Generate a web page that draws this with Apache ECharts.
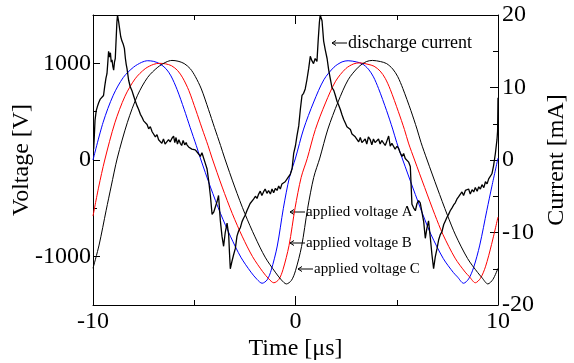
<!DOCTYPE html>
<html>
<head>
<meta charset="utf-8">
<script src="https://cdn.jsdelivr.net/npm/echarts@6.0.0/dist/echarts.min.js"></script>
<style>
html, body { margin: 0; padding: 0; background: #fff; }
#chart { width: 574px; height: 363px; }
</style>
</head>
<body>
<div id="chart"></div>
<script>
// time in us, voltage in V, current in mA
const voltageA = [
  [-10, 0], [-9.5, 390], [-9, 670], [-8.5, 855], [-8, 960], [-7.6, 1010], [-7.3, 1027], [-7.0, 1020],
  [-6.7, 995], [-6.4, 945], [-6.15, 870], [-5.85, 730], [-5.5, 525], [-5.2, 335], [-4.9, 150], [-4.7, 20],
  [-4.2, -280], [-3.7, -555], [-3.2, -795], [-2.7, -1005], [-2.2, -1160], [-1.9, -1235], [-1.65, -1275],
  [-1.4, -1240], [-1.2, -1140], [-0.9, -890], [-0.6, -500], [-0.3, -180], [0, 20], [0.4, 320], [0.9, 600],
  [1.4, 830], [1.9, 960], [2.3, 1015], [2.6, 1027], [3.0, 1015], [3.3, 995], [3.6, 940], [3.85, 860],
  [4.1, 740], [4.5, 510], [4.8, 320], [5.0, 180], [5.3, 0], [5.8, -290], [6.3, -570], [6.7, -775],
  [7.3, -1020], [7.8, -1165], [8.0, -1210], [8.3, -1275], [8.55, -1230], [8.8, -1110], [9.1, -880],
  [9.45, -520], [9.7, -270], [10, 20]
];
const voltageB = [
  [-10, -580], [-9.72, -280], [-9.42, 0], [-8.92, 385], [-8.42, 660], [-7.92, 840], [-7.42, 945], [-7.0, 990],
  [-6.72, 1000], [-6.42, 995], [-6.12, 975], [-5.82, 925], [-5.57, 850], [-5.27, 720], [-4.92, 515],
  [-4.62, 330], [-4.32, 150], [-4.12, 20], [-3.62, -280], [-3.12, -555], [-2.62, -795], [-2.12, -1000],
  [-1.62, -1155], [-1.32, -1230], [-1.07, -1270], [-0.82, -1235], [-0.62, -1135], [-0.32, -885],
  [-0.02, -495], [0.28, -180], [0.58, 15], [0.98, 315], [1.48, 590], [1.98, 815], [2.48, 945], [2.88, 995],
  [3.18, 1005], [3.58, 990], [3.88, 970], [4.18, 920], [4.43, 845], [4.68, 730], [5.08, 500], [5.38, 315],
  [5.58, 175], [5.88, 0], [6.38, -285], [6.88, -565], [7.28, -770], [7.88, -1015], [8.38, -1160],
  [8.58, -1205], [8.88, -1270], [9.13, -1225], [9.38, -1105], [9.68, -875], [10, -590]
];
const voltageC = [
  [-10, -1120], [-9.7, -880], [-9.35, -520], [-9.1, -270], [-8.8, 20], [-8.3, 390], [-7.8, 670], [-7.3, 855],
  [-6.8, 960], [-6.4, 1012], [-6.1, 1030], [-5.8, 1022], [-5.5, 998], [-5.2, 945], [-4.95, 865],
  [-4.65, 735], [-4.3, 525], [-4.0, 335], [-3.7, 150], [-3.5, 20], [-3.0, -280], [-2.5, -555], [-2.0, -795],
  [-1.5, -1005], [-1.0, -1160], [-0.7, -1240], [-0.45, -1282], [-0.2, -1245], [0.0, -1145], [0.3, -895],
  [0.6, -500], [0.9, -180], [1.2, 20], [1.6, 320], [2.1, 600], [2.6, 830], [3.1, 960], [3.5, 1018],
  [3.8, 1030], [4.2, 1018], [4.5, 997], [4.8, 942], [5.05, 862], [5.3, 740], [5.7, 510], [6.0, 320],
  [6.2, 180], [6.5, 0], [7.0, -290], [7.5, -570], [7.9, -775], [8.5, -1020], [9.0, -1165], [9.2, -1215],
  [9.5, -1282], [9.75, -1235], [10, -1120]
];
const dischargeCurrent = [
  [-9.97, 1.5], [-9.94, 3.0], [-9.9, 5.5], [-9.84, 6.8], [-9.78, 7.4], [-9.72, 7.9], [-9.64, 8.4], [-9.56, 8.2],
  [-9.48, 8.9], [-9.42, 10.2], [-9.36, 11.3], [-9.31, 11.9], [-9.27, 13.4], [-9.23, 15.0], [-9.18, 14.2],
  [-9.14, 14.8], [-9.10, 13.5], [-9.06, 13.8], [-9.02, 12.9], [-8.98, 12.4], [-8.94, 13.5], [-8.90, 14.0],
  [-8.86, 16.5], [-8.82, 19.0], [-8.79, 20.0], [-8.74, 19.2], [-8.69, 18.2], [-8.63, 17.0], [-8.57, 16.4],
  [-8.51, 16.0], [-8.45, 15.4], [-8.40, 14.0], [-8.36, 13.2], [-8.32, 12.6], [-8.24, 11.0], [-8.16, 10.1],
  [-8.08, 9.6], [-8.0, 8.9], [-7.92, 8.2], [-7.83, 7.5], [-7.75, 7.0], [-7.66, 6.3], [-7.58, 5.9],
  [-7.50, 5.4], [-7.42, 5.2], [-7.33, 4.9], [-7.25, 4.3], [-7.17, 4.6], [-7.08, 3.9], [-7.0, 3.7],
  [-6.92, 3.2], [-6.84, 3.5], [-6.76, 2.8], [-6.68, 2.6], [-6.6, 2.3], [-6.52, 2.9], [-6.44, 2.2],
  [-6.35, 2.3], [-6.27, 2.8], [-6.19, 2.5], [-6.10, 3.0], [-6.02, 3.3], [-5.96, 2.4], [-5.9, 3.1],
  [-5.83, 2.2], [-5.76, 2.8], [-5.69, 2.3], [-5.62, 2.0], [-5.55, 2.7], [-5.47, 2.1], [-5.40, 2.4],
  [-5.36, 2.1], [-5.28, 1.8], [-5.20, 1.9], [-5.12, 1.5], [-5.03, 1.6], [-4.95, 1.4], [-4.86, 1.1],
  [-4.78, 0.8], [-4.70, 0.5], [-4.62, 1.0], [-4.54, 0.9], [-4.45, -0.5], [-4.37, -1.2], [-4.29, -2.8],
  [-4.2, -5.0], [-4.12, -7.5], [-4.04, -7.2], [-3.96, -7.0], [-3.88, -5.8], [-3.80, -4.9], [-3.76, -6.5],
  [-3.71, -8.4], [-3.63, -10.5], [-3.55, -11.9], [-3.47, -10.0], [-3.38, -8.7], [-3.30, -10.3],
  [-3.26, -12.8], [-3.22, -15.0], [-3.14, -14.0], [-3.06, -13.1], [-2.97, -12.2], [-2.89, -10.5],
  [-2.81, -9.8], [-2.72, -9.3], [-2.64, -8.5], [-2.56, -8.0], [-2.48, -7.6], [-2.40, -7.0], [-2.32, -6.8],
  [-2.24, -6.0], [-2.15, -5.9], [-2.07, -5.4], [-1.98, -5.0], [-1.90, -5.3], [-1.82, -4.7], [-1.74, -4.3],
  [-1.66, -4.9], [-1.58, -4.4], [-1.50, -4.0], [-1.41, -4.6], [-1.33, -4.2], [-1.24, -4.7], [-1.16, -4.0],
  [-1.08, -4.5], [-0.99, -3.9], [-0.91, -4.2], [-0.83, -3.6], [-0.75, -4.0], [-0.67, -3.3], [-0.59, -3.5],
  [-0.51, -3.0], [-0.42, -2.8], [-0.34, -2.3], [-0.26, -2.0], [-0.17, -1.2], [-0.09, 0.9], [0.0, 2.0],
  [0.07, 3.3], [0.16, 4.7], [0.24, 7.0], [0.32, 8.9], [0.40, 9.2], [0.48, 9.8], [0.56, 11.0], [0.65, 12.6],
  [0.73, 14.3], [0.81, 13.7], [0.89, 13.3], [0.97, 14.0], [1.06, 13.6], [1.12, 16.5], [1.18, 19.0],
  [1.22, 20.0], [1.31, 19.2], [1.39, 16.4], [1.47, 15.2], [1.56, 14.0], [1.64, 12.4], [1.72, 11.2],
  [1.80, 10.0], [1.89, 9.6], [1.97, 8.9], [2.05, 8.1], [2.13, 7.6], [2.21, 7.0], [2.30, 6.2], [2.38, 5.6],
  [2.46, 5.1], [2.54, 4.6], [2.62, 4.5], [2.71, 4.2], [2.79, 3.6], [2.87, 3.8], [2.95, 3.2], [3.04, 3.0],
  [3.12, 2.5], [3.20, 3.1], [3.28, 2.4], [3.36, 2.3], [3.44, 2.9], [3.52, 2.2], [3.60, 3.2], [3.69, 2.8],
  [3.77, 2.1], [3.85, 2.9], [3.93, 2.4], [4.02, 2.3], [4.10, 2.9], [4.18, 2.2], [4.26, 2.7], [4.35, 2.6],
  [4.43, 2.0], [4.51, 2.6], [4.60, 3.3], [4.68, 1.9], [4.76, 2.3], [4.84, 1.9], [4.92, 1.5], [5.01, 1.9],
  [5.09, 1.6], [5.17, 1.0], [5.26, 0.5], [5.34, 0.9], [5.42, 0.2], [5.51, 0.0], [5.59, -0.3], [5.67, -0.9],
  [5.71, -3.5], [5.75, -6.1], [5.83, -6.6], [5.92, -7.0], [6.00, -6.0], [6.08, -5.6], [6.16, -5.9],
  [6.25, -6.1], [6.33, -8.5], [6.41, -10.8], [6.49, -9.4], [6.57, -8.4], [6.66, -10.8], [6.74, -13.1],
  [6.82, -15.0], [6.90, -13.4], [6.99, -12.2], [7.07, -11.0], [7.15, -10.3], [7.23, -9.9], [7.32, -8.9],
  [7.40, -8.4], [7.48, -7.9], [7.56, -7.5], [7.64, -7.0], [7.73, -6.6], [7.81, -6.2], [7.89, -5.9],
  [7.97, -5.4], [8.05, -5.1], [8.14, -4.9], [8.22, -4.4], [8.30, -4.9], [8.39, -4.2], [8.47, -4.4],
  [8.55, -4.0], [8.63, -4.7], [8.72, -4.1], [8.80, -4.4], [8.88, -3.8], [8.97, -4.3], [9.05, -3.7],
  [9.13, -4.0], [9.21, -3.4], [9.30, -3.8], [9.38, -3.0], [9.46, -3.3], [9.54, -2.6], [9.62, -2.4],
  [9.70, -1.9], [9.78, -0.8], [9.87, 0.9], [9.95, 2.8], [9.98, 4.0], [10.0, 8.6]
];
const voltageTicks = [-1000, 0, 1000];

const serif = "'Liberation Serif', 'Times New Roman', serif";
let myChart = echarts.init(document.getElementById("chart"));

const tickFont = { color: "#000", fontFamily: serif, fontSize: 24 };
const nameFont = { color: "#000", fontFamily: serif, fontSize: 24 };
const blackLine = { onZero: false, lineStyle: { color: "#000", width: 1 } };

// annotation: a thin left-pointing arrow followed by a label
function note(x, y, text, size) {
  return {
    type: "group",
    children: [
      { type: "line", shape: { x1: x, y1: y, x2: x + 15, y2: y }, style: { stroke: "#000", lineWidth: 1 } },
      { type: "polyline", shape: { points: [[x + 4, y - 2.5], [x, y], [x + 4, y + 2.5]] }, style: { stroke: "#000", lineWidth: 1, fill: null } },
      { type: "text", x: x + 16, y: y, style: { text: text, font: size + "px " + serif, fill: "#000", verticalAlign: "middle" } },
    ],
  };
}

myChart.setOption({
  animation: false,
  backgroundColor: "#fff",
  grid: { left: 93, right: 76, top: 15, bottom: 58, outerBoundsMode: "none", containLabel: false },
  xAxis: [{
    type: "value",
    min: -10,
    max: 10,
    interval: 10,
    name: "Time [μs]",
    nameLocation: "middle",
    nameGap: 32,
    nameMoveOverlap: false,
    nameTextStyle: nameFont,
    axisLine: blackLine,
    axisTick: { inside: true, length: 9, lineStyle: { color: "#000" } },
    minorTick: { show: true, splitNumber: 2, length: 5, lineStyle: { color: "#000" } },
    axisLabel: Object.assign({ margin: 5 }, tickFont),
    splitLine: { show: false },
  }, {
    type: "value",
    position: "top",
    min: -10,
    max: 10,
    interval: 10,
    axisLine: blackLine,
    axisTick: { inside: true, length: 9, lineStyle: { color: "#000" } },
    minorTick: { show: true, splitNumber: 2, length: 5, lineStyle: { color: "#000" } },
    axisLabel: { show: false },
    splitLine: { show: false },
  }],
  yAxis: [{
    type: "value",
    position: "left",
    min: -1500,
    max: 1500,
    interval: 500,
    name: "Voltage [V]",
    nameLocation: "middle",
    nameRotate: 90,
    nameGap: 59,
    nameMoveOverlap: false,
    nameTextStyle: nameFont,
    axisLine: blackLine,
    axisTick: { inside: true, length: 4, lineStyle: { color: "#000" } },
    axisLabel: Object.assign({
      margin: 2,
      formatter: (v) => (voltageTicks.indexOf(v) >= 0 ? String(v) : ""),
    }, tickFont),
    splitLine: { show: false },
  }, {
    type: "value",
    position: "right",
    min: -20,
    max: 20,
    interval: 10,
    name: "Current [mA]",
    nameLocation: "middle",
    nameRotate: 90,
    nameGap: 47,
    nameMoveOverlap: false,
    nameTextStyle: nameFont,
    axisLine: blackLine,
    axisTick: { inside: true, length: 8, lineStyle: { color: "#000" } },
    minorTick: { show: true, splitNumber: 2, length: 5, lineStyle: { color: "#000" } },
    axisLabel: Object.assign({ margin: 4 }, tickFont),
    splitLine: { show: false },
  }, {
    type: "value",
    position: "left",
    min: -1500,
    max: 1500,
    axisLine: { show: false, onZero: false },
    axisTick: { inside: true, length: 7, customValues: voltageTicks, lineStyle: { color: "#000" } },
    axisLabel: { show: false },
    splitLine: { show: false },
  }],
  series: [{
    name: "applied voltage A",
    type: "line",
    data: voltageA,
    smooth: 0.3,
    showSymbol: false,
    lineStyle: { color: "#0000ff", width: 1 },
  }, {
    name: "applied voltage B",
    type: "line",
    data: voltageB,
    smooth: 0.3,
    showSymbol: false,
    lineStyle: { color: "#ff0000", width: 1 },
  }, {
    name: "applied voltage C",
    type: "line",
    data: voltageC,
    smooth: 0.3,
    showSymbol: false,
    lineStyle: { color: "#000", width: 1 },
  }, {
    name: "discharge current",
    type: "line",
    yAxisIndex: 1,
    data: dischargeCurrent,
    showSymbol: false,
    lineStyle: { color: "#000", width: 1.3 },
  }],
  graphic: [
    note(332, 43, "discharge current", 18),
    note(290, 212, "applied voltage A", 15),
    note(290, 243, "applied voltage B", 15),
    note(298, 269, "applied voltage C", 15),
  ],
});
window.onresize = function() {
  myChart.resize();
};
</script>
</body>
</html>
